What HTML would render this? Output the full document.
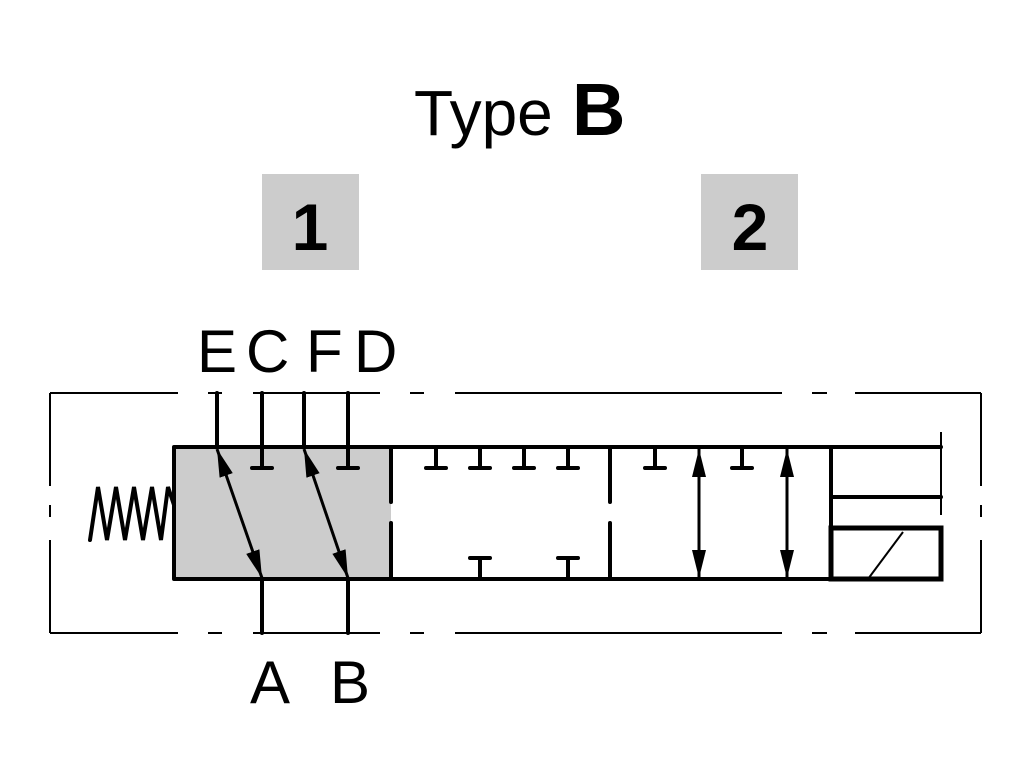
<!DOCTYPE html>
<html><head><meta charset="utf-8"><style>
html,body{margin:0;padding:0;background:#fff;}
svg{display:block}
text{font-family:"Liberation Sans",Arial,sans-serif;fill:#000}
</style></head><body>
<svg width="1035" height="776" viewBox="0 0 1035 776" xmlns="http://www.w3.org/2000/svg">
<defs>
<marker id="ah" viewBox="0 0 10 10" refX="10" refY="5" markerWidth="28" markerHeight="14" markerUnits="userSpaceOnUse" orient="auto-start-reverse" preserveAspectRatio="none">
<path d="M0,0 L10,5 L0,10 z" fill="#000"/>
</marker>
</defs>
<text x="414" y="135" font-size="64">Type</text>
<text x="572" y="135" font-size="74" font-weight="bold">B</text>
<rect x="262" y="174" width="97" height="96" fill="#cccccc"/>
<rect x="701" y="174" width="97" height="96" fill="#cccccc"/>
<text x="310" y="250" font-size="66" font-weight="bold" text-anchor="middle">1</text>
<text x="750" y="250" font-size="66" font-weight="bold" text-anchor="middle">2</text>
<text x="197" y="372" font-size="60">E</text>
<text x="246" y="372" font-size="60">C</text>
<text x="306" y="372" font-size="60">F</text>
<text x="354" y="372" font-size="60">D</text>
<text x="250" y="703" font-size="60">A</text>
<text x="330" y="703" font-size="60">B</text>

<g stroke="#000" stroke-width="2" fill="none">
<path d="M50,393 H178 M208,393 H222 M253,393 H380 M410,393 H424 M455,393 H782 M812,393 H827 M855,393 H981"/>
<path d="M50,633 H178 M208,633 H222 M253,633 H380 M410,633 H424 M455,633 H782 M812,633 H827 M855,633 H981"/>
<path d="M50,393 V486 M50,505 V517 M50,540 V633"/>
<path d="M981,393 V486 M981,505 V517 M981,540 V633"/>
</g>
<rect x="174" y="447" width="217" height="132" fill="#cccccc"/>
<g stroke="#000" stroke-width="4" fill="none" stroke-linecap="round">
<path d="M174,447 H941 M174,579 H831 M174,447 V579"/>
<path d="M391,447 V502 M391,523 V579 M610,447 V502 M610,523 V579 M831,447 V579"/>
<path d="M831,497 H941"/>
<path d="M90,540 L98,487 L107,540 L116,487 L125,540 L134,487 L143,540 L152,487 L161,540 L168,487 L174,505"/>
<path d="M217,393 V447 M304,393 V447 M262,393 V468 M348,393 V468 M252,468 H272 M338,468 H358"/>
<path d="M262,579 V633 M348,579 V633"/>
<path d="M426,468 H446 M436,447 V468 M470,468 H490 M480,447 V468 M514,468 H534 M524,447 V468 M558,468 H578 M568,447 V468"/>
<path d="M470,558 H490 M480,558 V579 M558,558 H578 M568,558 V579"/>
<path d="M645,468 H665 M655,447 V468 M732,468 H752 M742,447 V468"/>
</g>
<g stroke="#000" stroke-width="3">
<line x1="217" y1="449" x2="262" y2="578" marker-start="url(#ah)" marker-end="url(#ah)"/>
<line x1="304" y1="449" x2="348" y2="578" marker-start="url(#ah)" marker-end="url(#ah)"/>
<line x1="699" y1="449" x2="699" y2="578" marker-start="url(#ah)" marker-end="url(#ah)"/>
<line x1="787" y1="449" x2="787" y2="578" marker-start="url(#ah)" marker-end="url(#ah)"/>
</g>
<line x1="941" y1="432" x2="941" y2="515" stroke="#000" stroke-width="2"/>
<rect x="831" y="528" width="110" height="51" fill="none" stroke="#000" stroke-width="5"/>
<line x1="868" y1="579" x2="903" y2="532" stroke="#000" stroke-width="2"/>
</svg>
</body></html>
